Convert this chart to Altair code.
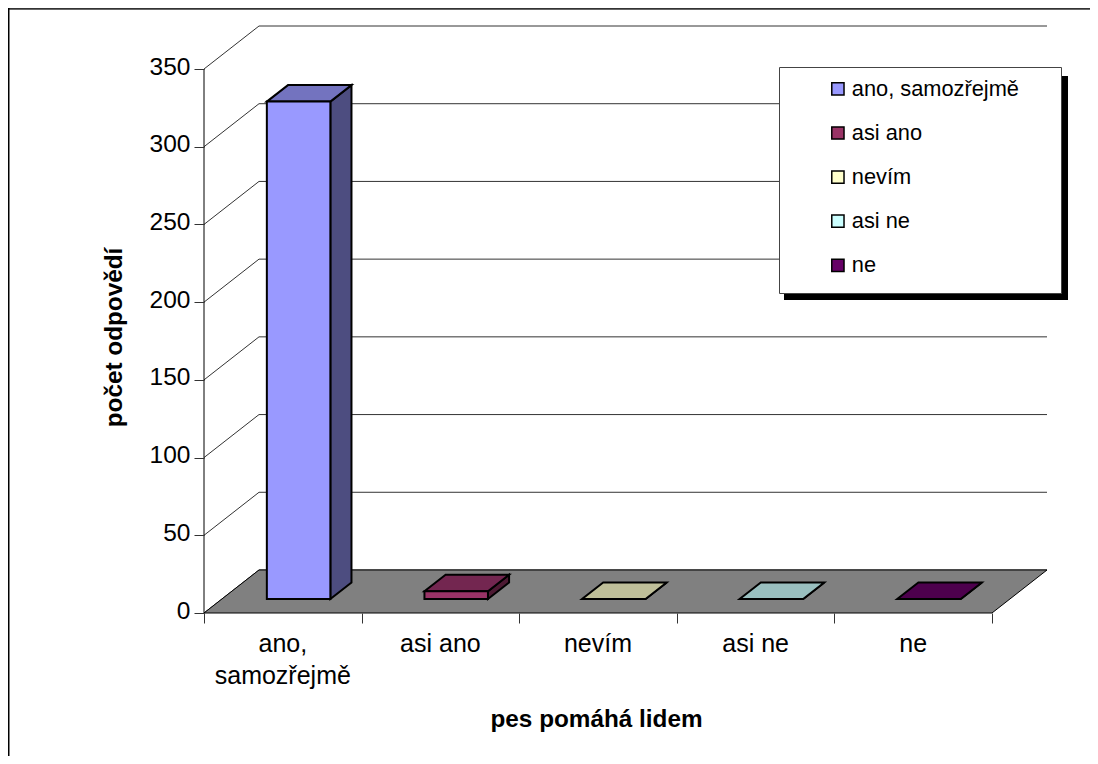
import altair as alt
import pandas as pd

categories = ["ano, samozřejmě", "asi ano", "nevím", "asi ne", "ne"]
tick_lines = ["ano,\nsamozřejmě", "asi ano", "nevím", "asi ne", "ne"]
values = [320, 5, 0, 0, 0]
front_colors = ["#9999FF", "#993366", "#FFFFCC", "#CCFFFF", "#660066"]
top_colors = ["#7373BF", "#732650", "#BFBF99", "#99BFBF", "#4D004D"]
side_colors = ["#4D4D80", "#4D1A33", "#808066", "#668080", "#330033"]
grid_values = [0, 50, 100, 150, 200, 250, 300, 350]

W, H = 843, 587
DX, DY = 0.349, 27.67      # oblique shift of full depth, in axis units
GAP, BAR_W = 0.285, 0.403
Z0, Z1 = 0.326, 0.71       # bar front and back depth
FONT = "Liberation Sans"

xs = alt.Scale(domain=[0, 5 + DX], range=[0, W], nice=False, zero=False)
ys = alt.Scale(domain=[0, 350 + DY], range=[H, 0], nice=False, zero=False)

rows_front, rows_top, rows_side = [], [], []
for i, (c, v) in enumerate(zip(categories, values)):
    x0 = i + GAP + Z0 * DX
    rows_front.append(dict(cat=c, x=x0, x2=x0 + BAR_W, y=Z0 * DY, y2=v + Z0 * DY))
    for z in (Z0, Z1):
        sx = i + GAP + z * DX
        rows_top.append(dict(cat=c, x=sx, x2=sx + BAR_W, y=v + z * DY))
        rows_side.append(dict(cat=c, x=sx + BAR_W, y=z * DY, y2=v + z * DY))

grid_rows = []
for v in grid_values:
    grid_rows += [dict(g=v, o=0, x=0, y=v),
                  dict(g=v, o=1, x=DX, y=v + DY),
                  dict(g=v, o=2, x=5 + DX, y=v + DY)]

frame_df = pd.DataFrame({"a": [0]})
edge_top = alt.Chart(frame_df).mark_rule(color="#333333", strokeWidth=2).encode(
    x=alt.value(-196), x2=alt.value(886), y=alt.value(-17.25))
edge_left = alt.Chart(frame_df).mark_rule(color="black", strokeWidth=2).encode(
    x=alt.value(-195.5), y=alt.value(-18), y2=alt.value(730))

grid = alt.Chart(pd.DataFrame(grid_rows)).mark_line(color="#333333", strokeWidth=1).encode(
    x=alt.X("x:Q", scale=xs,
            axis=alt.Axis(values=[0, 1, 2, 3, 4, 5], labels=False, tickSize=10, tickColor="#333333",
                          domain=False, grid=False, title="pes pomáhá lidem", zindex=1,
                          titleFont=FONT, titleFontSize=24.3, titleFontWeight="bold", titleColor="black",
                          titleX=392, titleY=113, titleAlign="center", titleBaseline="alphabetic")),
    y=alt.Y("y:Q", scale=ys,
            axis=alt.Axis(values=grid_values, tickSize=10, tickColor="#333333", domain=False, grid=False,
                          labelFont=FONT, labelFontSize=24.5, labelColor="black", labelPadding=4, labelOffset=-2,
                          zindex=1, title="počet odpovědí", titleFont=FONT, titleFontSize=24.3,
                          titleFontWeight="bold", titleColor="black", titleX=-83, titleY=311,
                          titleAlign="center", titleBaseline="alphabetic", titleAngle=270)),
    detail="g:N", order="o:Q")

wall_axis = alt.Chart(pd.DataFrame({"y": [0], "y2": [350], "x": [0]})).mark_rule(color="black", strokeWidth=1).encode(
    x=alt.X("x:Q", scale=xs), y=alt.Y("y:Q", scale=ys), y2="y2:Q")

floor_df = pd.DataFrame({"x": [0, DX], "x2": [5, 5 + DX], "y": [0, DY]})
floor = alt.Chart(floor_df).mark_area(orient="horizontal", color="#808080", stroke="black", strokeWidth=1).encode(
    x=alt.X("x:Q", scale=xs), x2="x2:Q", y=alt.Y("y:Q", scale=ys))

side = alt.Chart(pd.DataFrame(rows_side)).mark_area(orient="vertical", stroke="black", strokeWidth=2).encode(
    x=alt.X("x:Q", scale=xs), y=alt.Y("y:Q", scale=ys), y2="y2:Q",
    color=alt.Color("cat:N", scale=alt.Scale(domain=categories, range=side_colors), legend=None))

top = alt.Chart(pd.DataFrame(rows_top)).mark_area(orient="horizontal", stroke="black", strokeWidth=2).encode(
    x=alt.X("x:Q", scale=xs), x2="x2:Q", y=alt.Y("y:Q", scale=ys),
    color=alt.Color("cat:N", scale=alt.Scale(domain=categories, range=top_colors), legend=None))

front = alt.Chart(pd.DataFrame(rows_front)).mark_rect(stroke="black", strokeWidth=2).encode(
    x=alt.X("x:Q", scale=xs), x2="x2:Q", y=alt.Y("y:Q", scale=ys), y2="y2:Q",
    color=alt.Color("cat:N", scale=alt.Scale(domain=categories, range=front_colors),
                    legend=alt.Legend(orient="none", legendX=623, legendY=52, title=None,
                                      symbolType="square", symbolSize=150, symbolStrokeWidth=1.5,
                                      labelFont=FONT, labelFontSize=21.8, labelColor="black", labelOffset=3,
                                      labelLimit=250, rowPadding=21.1, padding=0)))

label_df = pd.DataFrame({"x": [i + 0.5 for i in range(5)], "t": tick_lines})
labels = alt.Chart(label_df).mark_text(font=FONT, fontSize=25, lineBreak="\n", lineHeight=32,
                                       baseline="alphabetic", align="center", color="black").encode(
    x=alt.X("x:Q", scale=xs), y=alt.value(626), text="t:N")

shadow = alt.Chart(frame_df).mark_rect(fill="black").encode(
    x=alt.value(580), x2=alt.value(864), y=alt.value(50), y2=alt.value(274))
box = alt.Chart(frame_df).mark_rect(fill="white", stroke="#444444", strokeWidth=1).encode(
    x=alt.value(575.5), x2=alt.value(857.5), y=alt.value(41.5), y2=alt.value(267.5))

chart = alt.layer(edge_top, edge_left, grid, wall_axis, floor, side, top, front, labels, shadow, box).resolve_scale(
    color="independent"
).properties(
    width=W, height=H,
    padding={"left": 196, "top": 18, "right": 43, "bottom": 143},
    autosize=alt.AutoSizeParams(type="none"),
).configure_view(stroke=None)

chart.save("out.html", embed_options={"renderer": "svg", "actions": False})
